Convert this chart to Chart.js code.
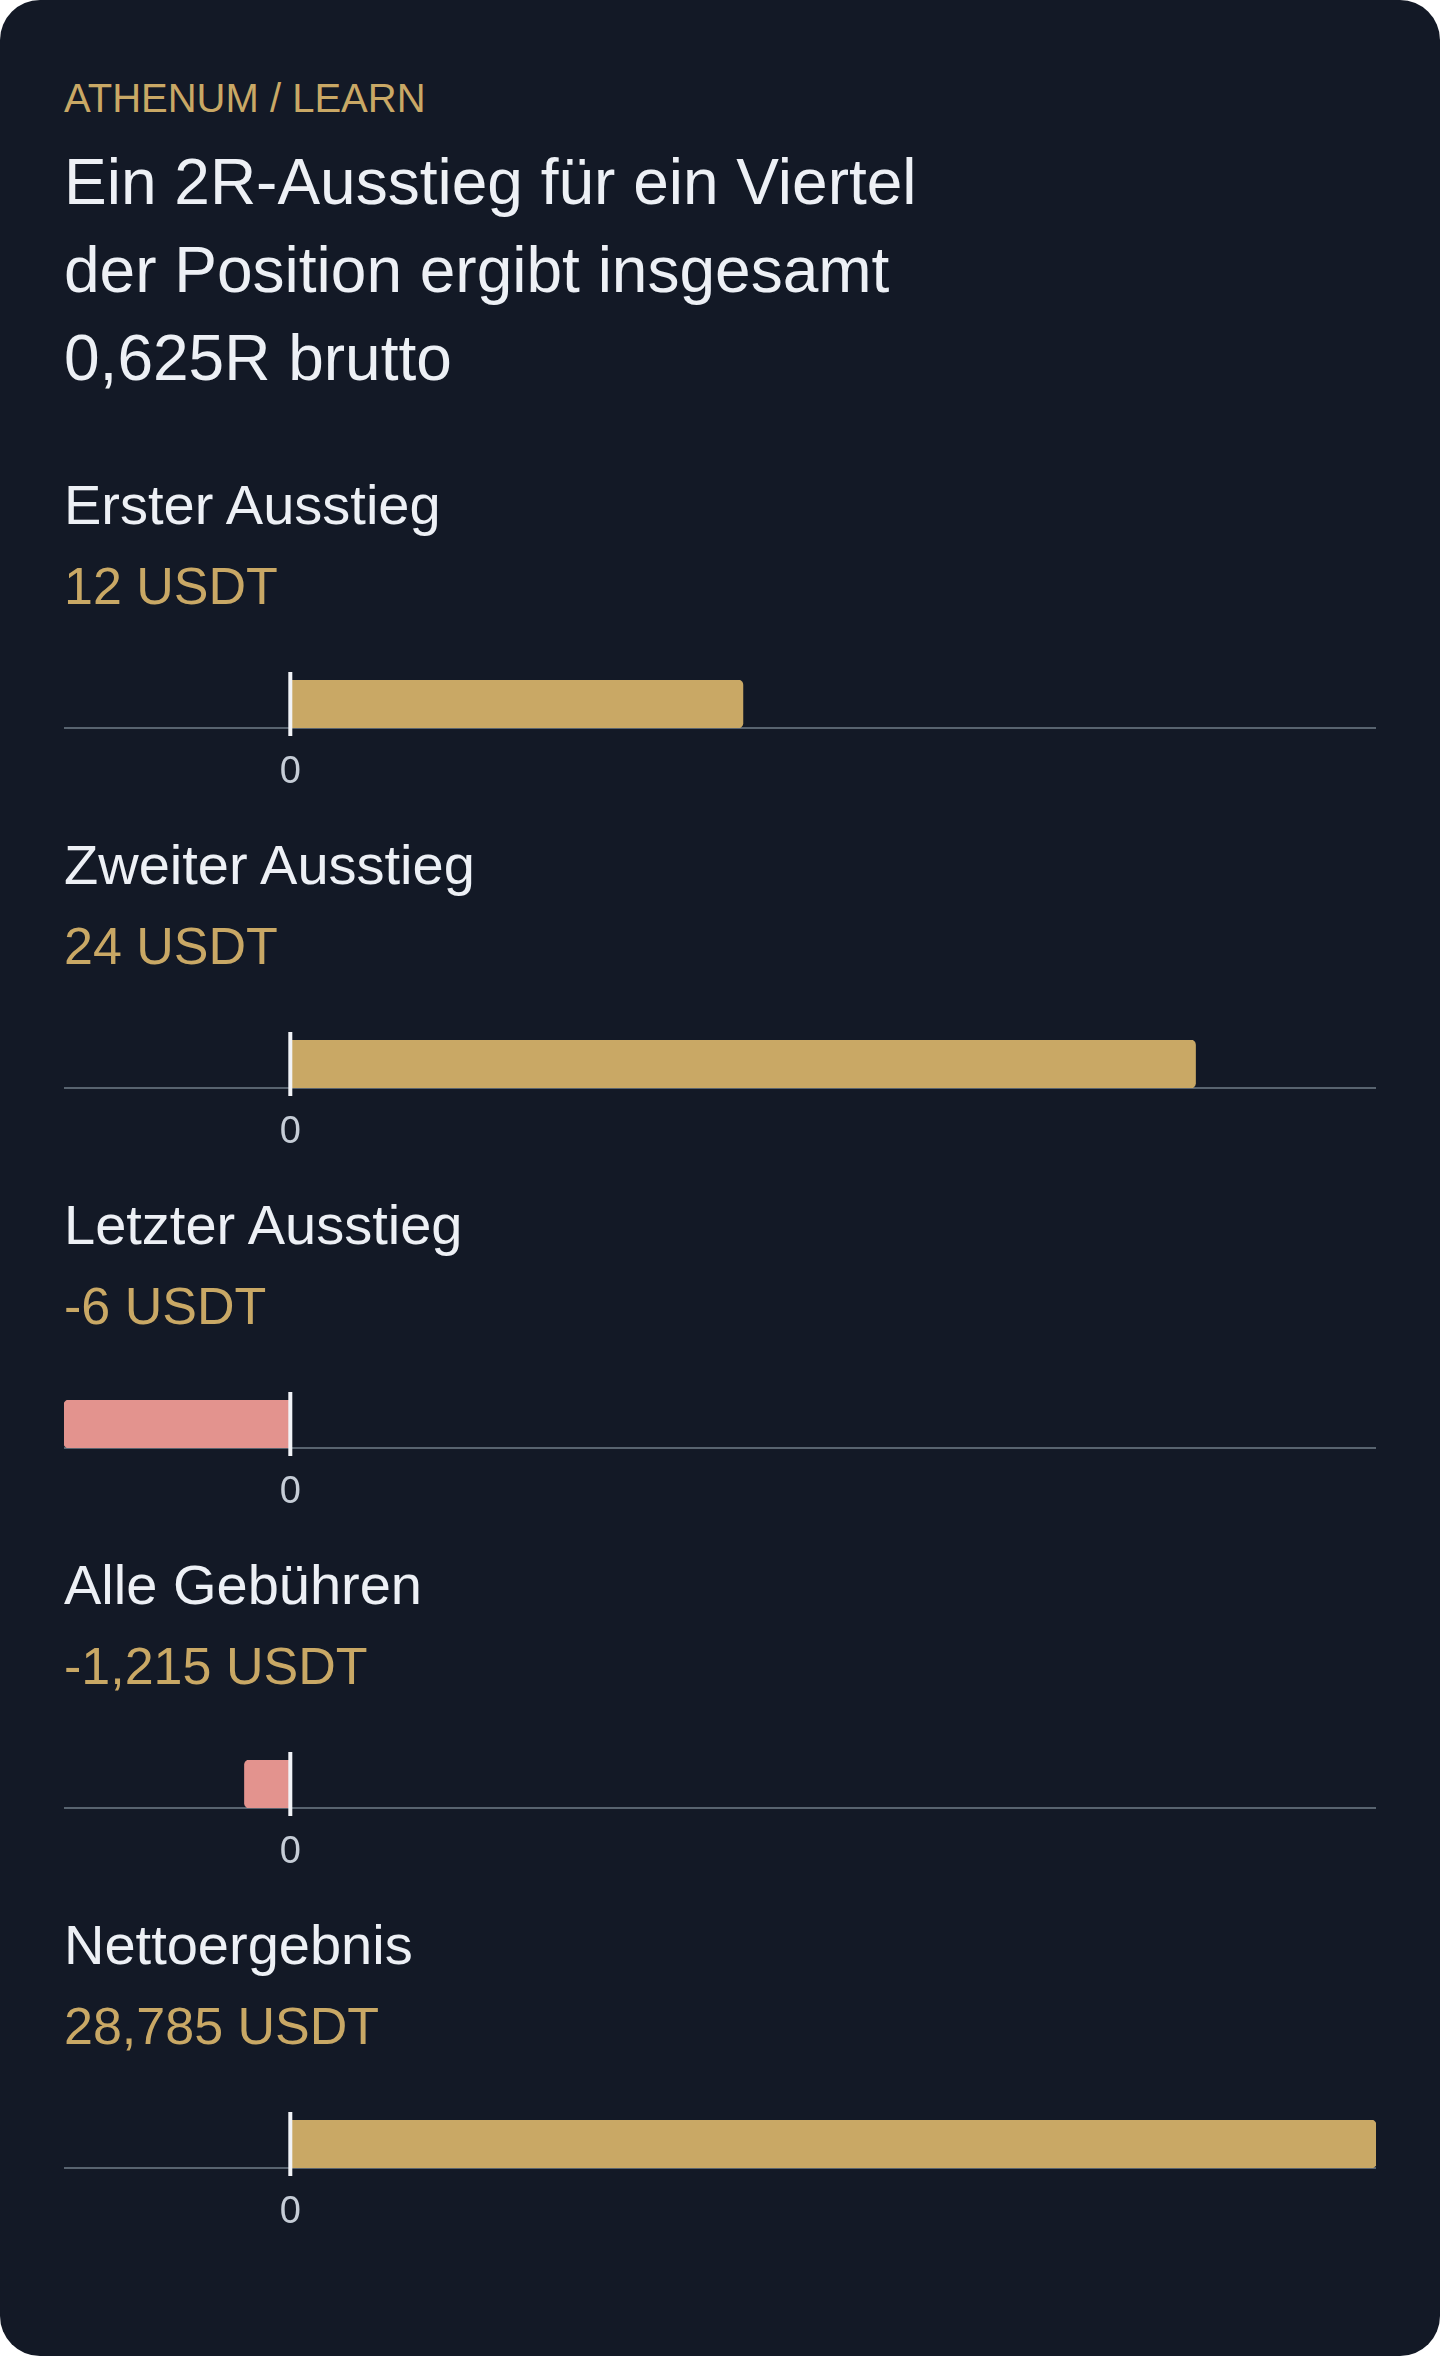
<!DOCTYPE html>
<html lang="de">
<head>
<meta charset="utf-8">
<title>Ausstieg in Teilen</title>
<script src="https://cdn.jsdelivr.net/npm/chart.js"></script>
<style>
  html, body { margin: 0; padding: 0; background: #ffffff; }
  body { width: 1440px; height: 2356px; font-family: "Liberation Sans", Arial, sans-serif; }
  .card {
    position: relative;
    width: 1440px;
    height: 2356px;
    background: #131926;
    border-radius: 40px;
    overflow: hidden;
  }
  .kicker {
    position: absolute; left: 64px; top: 74px;
    font-size: 40px; line-height: 48px; color: #c9a865;
  }
  .title {
    position: absolute; left: 64px; top: 138px; width: 900px;
    font-size: 64px; line-height: 88px; color: #edf0f5;
  }
  .section { position: absolute; left: 0; width: 1440px; height: 360px; }
  .section .label {
    position: absolute; left: 64px; top: 0;
    font-size: 56px; line-height: 66px; color: #edf0f5;
  }
  .section .value {
    position: absolute; left: 64px; top: 84px;
    font-size: 52px; line-height: 60px; color: #c9a865;
  }
  .section .chart-wrap {
    position: absolute; left: 64px; top: 200px;
    width: 1312px; height: 121px;
  }
</style>
</head>
<body>
<div class="card" id="card">
  <div class="kicker">ATHENUM / LEARN</div>
  <div class="title">Ein 2R-Ausstieg für ein Viertel der Position ergibt insgesamt 0,625R brutto</div>
</div>

<script>
// data
const categories = ['Erster Ausstieg', 'Zweiter Ausstieg', 'Letzter Ausstieg', 'Alle Gebühren', 'Nettoergebnis'];
const values = [12, 24, -6, -1.215, 28.785];
const unit = 'USDT';
const tickValues = [0];

const GOLD = '#c9a865';
const PINK = '#e3938e';

// shared scale range so every row uses the same axis
const axisMin = Math.min(0, ...values);
const axisMax = Math.max(0, ...values);

const fmt = v => String(v).replace('.', ',') + ' ' + unit;

// white line at zero, a bit longer than the chart area
const zeroLine = {
  id: 'zeroLine',
  afterDatasetsDraw(chart) {
    const { ctx, chartArea, scales: { x } } = chart;
    const px = x.getPixelForValue(0);
    ctx.save();
    ctx.strokeStyle = '#f1f3f7';
    ctx.lineWidth = 4;
    ctx.beginPath();
    ctx.moveTo(px, chartArea.top - 8);
    ctx.lineTo(px, chartArea.bottom + 8);
    ctx.stroke();
    ctx.restore();
  }
};

const card = document.getElementById('card');

categories.forEach((name, i) => {
  const section = document.createElement('div');
  section.className = 'section';
  section.style.top = (472 + i * 360) + 'px';

  const label = document.createElement('div');
  label.className = 'label';
  label.textContent = name;
  section.appendChild(label);

  const value = document.createElement('div');
  value.className = 'value';
  value.textContent = fmt(values[i]);
  section.appendChild(value);

  const wrap = document.createElement('div');
  wrap.className = 'chart-wrap';
  const canvas = document.createElement('canvas');
  wrap.appendChild(canvas);
  section.appendChild(wrap);
  card.appendChild(section);

  new Chart(canvas.getContext('2d'), {
    type: 'bar',
    data: {
      labels: [name],
      datasets: [{
        data: [values[i]],
        backgroundColor: values[i] < 0 ? PINK : GOLD,
        borderRadius: 5,
        borderSkipped: 'start',
        barPercentage: 1,
        categoryPercentage: 1,
      }],
    },
    options: {
      indexAxis: 'y',
      responsive: true,
      maintainAspectRatio: false,
      animation: false,
      layout: { padding: { top: 8, bottom: 0, left: 0, right: 0 } },
      plugins: {
        legend: { display: false },
        tooltip: { enabled: false },
      },
      scales: {
        x: {
          min: axisMin,
          max: axisMax,
          afterBuildTicks: scale => {
            scale.ticks = tickValues.map(v => ({ value: v }));
          },
          // axis box taller than the default half-height cap allows
          afterFit: scale => { scale.height = 65; },
          grid: { display: false },
          border: { display: true, color: '#58636f', width: 2 },
          ticks: {
            padding: 14,
            color: '#c5ccd6',
            font: { family: '"Liberation Sans", Arial, sans-serif', size: 38 },
            maxRotation: 0,
            callback: v => String(v),
          },
        },
        y: { display: false },
      },
    },
    plugins: [zeroLine],
  });
});
</script>
</body>
</html>
